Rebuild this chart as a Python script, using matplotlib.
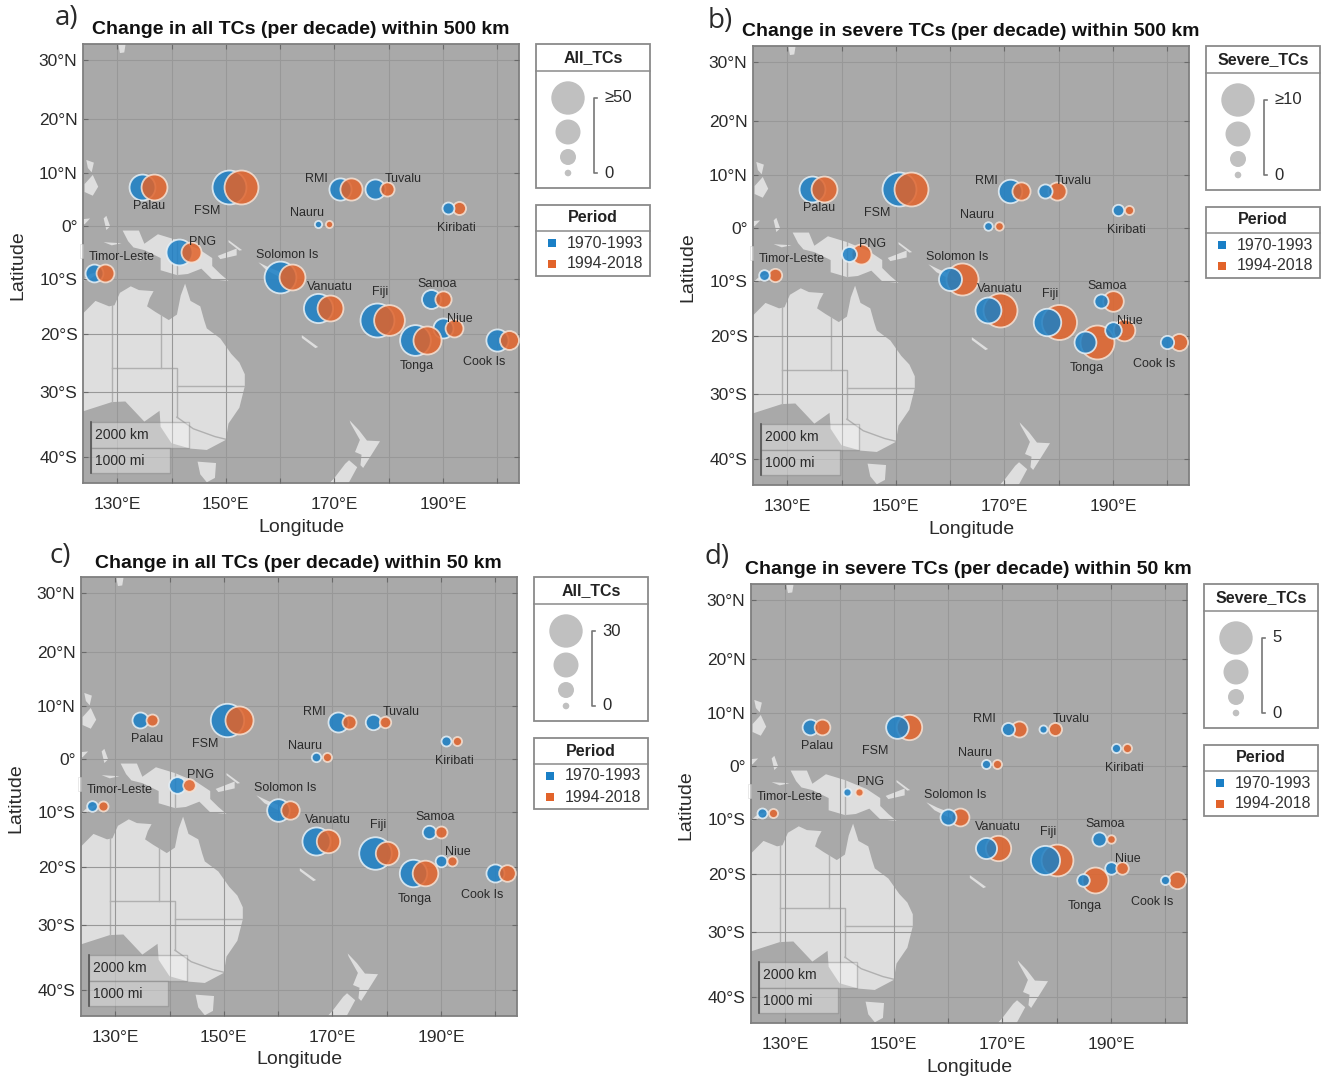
import numpy as np
import matplotlib
matplotlib.use('Agg')
import matplotlib.pyplot as plt
from matplotlib.patches import Polygon, Rectangle

plt.rcParams['font.family'] = ['Liberation Sans', 'DejaVu Sans']

# ---------- data ----------
countries = ['Palau', 'FSM', 'RMI', 'Tuvalu', 'Nauru', 'Kiribati', 'PNG', 'Timor-Leste',
             'Solomon Is', 'Vanuatu', 'Fiji', 'Tonga', 'Samoa', 'Niue', 'Cook Is']
lon_early = [134.5, 150.5, 171.0, 177.5, 167.0, 191.0, 141.3, 125.7, 160.0, 167.0, 177.8, 184.8, 187.8, 190.0, 200.0]
lon_late = [136.7, 152.8, 173.0, 179.7, 169.0, 193.0, 143.5, 127.8, 162.2, 169.2, 180.0, 187.0, 190.0, 192.0, 202.2]
lat = [7.5, 7.5, 7.0, 7.0, 0.5, 3.5, -4.8, -8.8, -9.5, -15.3, -17.5, -21.0, -13.7, -19.0, -21.0]

all500_early = [36, 51, 29, 25, 1, 10, 36, 21, 47, 42, 51, 45, 23, 25, 29]
all500_late = [36, 51, 29, 14, 1, 12, 25, 21, 36, 36, 45, 40, 18, 21, 23]
sev500_early = [7.2, 10.2, 6.3, 2.8, 0.7, 1.8, 3.1, 1.5, 6.1, 7.2, 7.8, 5.7, 2.8, 3.7, 2.5]
sev500_late = [7.2, 10.2, 4.3, 4.3, 0.7, 0.9, 5.0, 2.5, 9.5, 10.2, 10.6, 10.2, 5.2, 5.6, 3.9]
all50_early = [10.5, 30, 15, 9.9, 3.1, 3.8, 11.2, 4.5, 17.9, 24, 29, 23.3, 7.6, 5.6, 12.8]
all50_late = [6, 24, 8.3, 5.4, 2.7, 2.7, 6.7, 3.8, 13.2, 18.8, 18.8, 21.3, 6, 3.8, 11.2]
sev50_early = [1.7, 3.0, 1.2, 0.26, 0.45, 0.45, 0.26, 0.63, 1.75, 2.7, 4.2, 1.1, 1.4, 1.1, 0.45]
sev50_late = [1.7, 3.5, 1.75, 1.2, 0.45, 0.45, 0.26, 0.45, 2.1, 3.5, 4.7, 3.6, 0.34, 1.1, 2.0]

periods = ['1970-1993', '1994-2018']
lon_ticks = [130, 140, 150, 160, 170, 180, 190, 200]
lon_labels = ['130°E', '', '150°E', '', '170°E', '', '190°E', '']
lat_ticks = [30, 20, 10, 0, -10, -20, -30, -40]
lat_labels = ['30°N', '20°N', '10°N', '0°', '10°S', '20°S', '30°S', '40°S']

# coastlines (lon, lat), background map
land = [
    [(113.5,-22),(114,-26),(115,-31),(115,-34.3),(118,-35),(124,-33),(129,-31.6),(131.5,-31.5),(135,-34.7),
     (137.8,-33),(138,-35.5),(140,-38),(143.5,-38.8),(146.5,-39),(150,-37.5),(150.5,-35),(152.5,-32.5),(153.5,-29),(153.5,-27),
     (152.5,-25),(151,-23.5),(149,-20.8),(146.5,-19),(146,-17.5),(145.3,-15),(143.5,-14),(142.5,-10.8),(141.7,-13),(141,-16.5),
     (139.5,-17.5),(137,-16),(135.5,-15),(136,-13.5),(136.7,-12.2),(134,-12),(132.5,-11.3),(130.5,-12.5),(129.5,-14.8),(128.5,-15),(126,-14),(124,-16),(122.5,-17.5),(119,-20)],
    [(131,-0.8),(134,-0.8),(135,-3.3),(137.5,-1.5),(141,-2.6),(145,-4.3),(147.5,-6),(147.5,-7.5),(149,-9),(150.5,-10.3),
     (147.5,-10),(145.5,-8),(143,-9),(141,-9.2),(138,-8.3),(138,-6),(135,-4.5),(133,-4),(132,-2.8)],
    [(148.5,-5.6),(152,-4.2),(152,-5.5),(149,-6.2)],
    [(150.5,-2.6),(153,-4.5),(152.5,-4.6),(150.5,-3)],
    [(156,-6.8),(158,-7.8),(160,-8.6),(161.5,-10),(160,-9.6),(157.5,-8.3)],
    [(164,-20.2),(167,-22.3),(166.5,-22.5),(164,-20.7)],
    [(144.8,-40.7),(148.2,-40.9),(148,-43),(146.5,-43.6),(145.3,-42.5)],
    [(172.8,-34.5),(174.5,-36),(176,-37.6),(178.4,-37.7),(177,-39.5),(175.3,-41.6),(174.8,-41.2),(175,-39.7),
     (173.8,-39.3),(174.7,-37.5),(173,-35)],
    [(172.7,-40.5),(174.2,-41.5),(172.7,-43.6),(171,-45),(170,-46.5),(168,-46.6),(166.5,-45.8),(170,-43),(172,-41)],
    [(123.6,-10.3),(125,-9),(127.3,-8.4),(125,-9.9)],
    [(127.5,-3),(130.8,-3.2),(129,-3.6)],
    [(127.5,1.5),(128,2),(128.7,0),(128,-0.7)],
    [(124,8),(125.5,9.7),(126.5,7.5),(125.5,5.8),(124,6.5)],
    [(124.3,12.5),(125.7,12),(125.3,10.2),(124.6,11)],
    [(120,1),(125,1.5),(124,0.4),(120,0.3)],
    [(130,33.5),(131.7,33.5),(131.3,31.3),(130.5,31.2)],
    [(134.2,-5.4),(134.8,-6),(134.3,-6.6)],
]
borders = [
    [(129,-14.8),(129,-31.6)],
    [(138,-16.5),(138,-26)],
    [(129,-26),(141,-26),(141,-34)],
    [(141,-29),(153.3,-29)],
    [(141,-34),(144,-35.8),(148,-37),(150,-37.4)],
    [(141,-2.6),(141,-9.2)],
]

# ---------- styles / layout ----------
W, H = 1327, 1076
C_BLUE, C_ORANGE = '#1a7fc6', '#e2632a'
OCEAN, LAND = '#a9a9a9', '#dedede'
FRAME, GRID = '#7f7f7f', '#989898'
TXT = '#2a2a2a'
PW, PH = 436, 439

def merc(y):
    y = np.clip(y, -85, 85)
    return np.degrees(np.log(np.tan(np.pi / 4 + np.radians(y) / 2)))
def imerc(y):
    return np.degrees(2 * np.arctan(np.exp(np.radians(y))) - np.pi / 2)

def radius(v, vmax):
    return 3.3 + 13.4 * np.asarray(v, float) / vmax
def area(r):
    return (2 * np.asarray(r, float) * 0.72) ** 2

label_px = {'Palau': (66, 162), 'FSM': (124, 167), 'RMI': (233, 135), 'Tuvalu': (320, 135), 'Nauru': (224, 169),
            'Kiribati': (373, 184), 'PNG': (119, 198), 'Timor-Leste': (39, 213), 'Solomon Is': (204, 211),
            'Vanuatu': (247, 243), 'Fiji': (297, 248), 'Samoa': (354, 240), 'Niue': (377, 275),
            'Tonga': (334, 322), 'Cook Is': (401, 318)}

fig = plt.figure(figsize=(W / 100, H / 100), dpi=100, facecolor='white')
ov = fig.add_axes([0, 0, 1, 1], zorder=10)
ov.set_xlim(0, W); ov.set_ylim(H, 0); ov.axis('off'); ov.patch.set_alpha(0)

def panel(x0, y0, letter, letter_xy, title, title_xy, legend_name, top_label, vmax, early, late):
    ax = fig.add_axes([x0 / W, 1 - (y0 + PH) / H, PW / W, PH / H])
    ax.set_facecolor(OCEAN)
    ax.set_yscale('function', functions=(merc, imerc))
    ax.set_xlim(123.7, 204.0)
    ax.set_ylim(-43.7, 32.66)
    for poly in land:
        ax.add_patch(Polygon(poly, closed=True, fc=LAND, ec='none', zorder=1))
    for b in borders:
        bx, by = zip(*b)
        ax.plot(bx, by, color='#b0b0b0', lw=1.0, zorder=1.5)
    ax.set_xticks(lon_ticks, lon_labels)
    ax.set_yticks(lat_ticks, lat_labels)
    ax.minorticks_off()
    ax.grid(True, color=GRID, lw=0.8, zorder=2)
    ax.set_axisbelow(False)
    ax.tick_params(direction='in', length=3.5, width=0.8, color='#6a6a6a', top=True, right=True,
                   labelsize=12.5, labelcolor=TXT)
    ax.tick_params(axis='x', pad=10)
    ax.tick_params(axis='y', pad=4)
    for s in ax.spines.values():
        s.set_color(FRAME); s.set_linewidth(1.3)

    # bubbles: the larger of each pair is drawn first, 1994-2018 on top when equal
    common = dict(linewidths=1.3, alpha=0.85, clip_on=True)
    for i in range(len(countries)):
        blue_first = early[i] >= late[i]
        ax.scatter([lon_early[i]], [lat[i]], s=area(radius(early[i], vmax)), c=C_BLUE, edgecolors='#e8f2f8',
                   zorder=4 if blue_first else 4.1, **common)
        ax.scatter([lon_late[i]], [lat[i]], s=area(radius(late[i], vmax)), c=C_ORANGE, edgecolors='#f6e2d4',
                   zorder=4.1 if blue_first else 4, **common)

    # scale bars
    T = ax.transAxes
    def fx(px): return px / PW
    def fy(py): return 1 - py / PH
    ax.add_patch(Rectangle((fx(8), fy(404)), fx(98), 26 / PH, transform=T, fc='white', alpha=0.35,
                           ec='#6f6f6f', lw=1.0, zorder=5))
    ax.add_patch(Rectangle((fx(8), fy(429)), fx(79), 25 / PH, transform=T, fc='white', alpha=0.35,
                           ec='#6f6f6f', lw=1.0, zorder=5))
    ax.plot([fx(8), fx(8)], [fy(378), fy(429)], transform=T, color='#555555', lw=1.2, zorder=6)
    ax.text(fx(12), fy(391), '2000 km', transform=T, fontsize=10, color=TXT, va='center', zorder=6)
    ax.text(fx(12), fy(417), '1000 mi', transform=T, fontsize=10, color=TXT, va='center', zorder=6)
    ax.add_patch(Rectangle((fx(-3), fy(214)), fx(3), 14 / PH, transform=T, fc='white', alpha=0.5,
                           ec='#cccccc', lw=0.6, zorder=5, clip_on=False))

    # country names
    for name in countries:
        px, py = label_px[name]
        ov.text(x0 + px, y0 + py, name, ha='center', va='center', fontsize=9, color=TXT)

    # texts around the map
    ov.text(*letter_xy, letter, fontsize=20, family='Open Sans', color=TXT, ha='center', va='center')
    ov.text(*title_xy, title, fontsize=14.0, fontweight='bold', color='#111111', ha='left', va='center')
    ov.text(x0 + 218, y0 + 483, 'Longitude', fontsize=14, color=TXT, ha='center', va='center')
    ov.text(x0 - 65, y0 + 221, 'Latitude', fontsize=14, color=TXT, ha='center', va='center', rotation=90)

    # size legend
    lx = x0 + 453; lw_ = 114
    box = dict(fc='white', ec='#8a8a8a', lw=1.3)
    ov.add_patch(Rectangle((lx, y0), lw_, 144, **box))
    ov.plot([lx, lx + lw_], [y0 + 27, y0 + 27], color='#8a8a8a', lw=1.1)
    ov.text(lx + lw_ / 2, y0 + 14, legend_name, fontsize=11.5, fontweight='bold', color='#222222',
            ha='center', va='center')
    cy = [54, 88, 113, 129]
    rs = [16.7, 12.5, 8.0, 3.3]
    ov.scatter([lx + 32] * 4, [y0 + c for c in cy], s=area(rs), c='#c0c0c0', linewidths=0, zorder=3)
    bx = lx + 58
    ov.plot([bx + 3, bx, bx, bx + 3], [y0 + 54, y0 + 54, y0 + 129, y0 + 129], color='#777777', lw=1.2)
    ov.text(bx + 10, y0 + 54, top_label, fontsize=12, color=TXT, ha='left', va='center')
    ov.text(bx + 10, y0 + 129, '0', fontsize=12, color=TXT, ha='left', va='center')

    # period legend
    py0 = y0 + 161
    ov.add_patch(Rectangle((lx, py0), lw_, 71, **box))
    ov.plot([lx, lx + lw_], [py0 + 26, py0 + 26], color='#8a8a8a', lw=1.1)
    ov.text(lx + lw_ / 2, py0 + 13, 'Period', fontsize=11.5, fontweight='bold', color='#222222',
            ha='center', va='center')
    for i, (p, c) in enumerate(zip(periods, (C_BLUE, C_ORANGE))):
        yy = py0 + 38 + i * 21
        ov.scatter([lx + 16], [yy], s=36, marker='s', c=c, linewidths=0, zorder=3)
        ov.text(lx + 31, yy, p, fontsize=11.5, color='#333333', ha='left', va='center')

panel(83, 44, 'a)', (67, 18), 'Change in all TCs (per decade) within 500 km', (92, 30),
      'All_TCs', '≥50', 50, all500_early, all500_late)
panel(753, 46, 'b)', (720, 21), 'Change in severe TCs (per decade) within 500 km', (742, 32),
      'Severe_TCs', '≥10', 10, sev500_early, sev500_late)
panel(81, 577, 'c)', (60, 556), 'Change in all TCs (per decade) within 50 km', (95, 563),
      'All_TCs', '30', 30, all50_early, all50_late)
panel(751, 584, 'd)', (717, 557), 'Change in severe TCs (per decade) within 50 km', (745, 569),
      'Severe_TCs', '5', 5, sev50_early, sev50_late)

fig.savefig('out.png', dpi=100)
